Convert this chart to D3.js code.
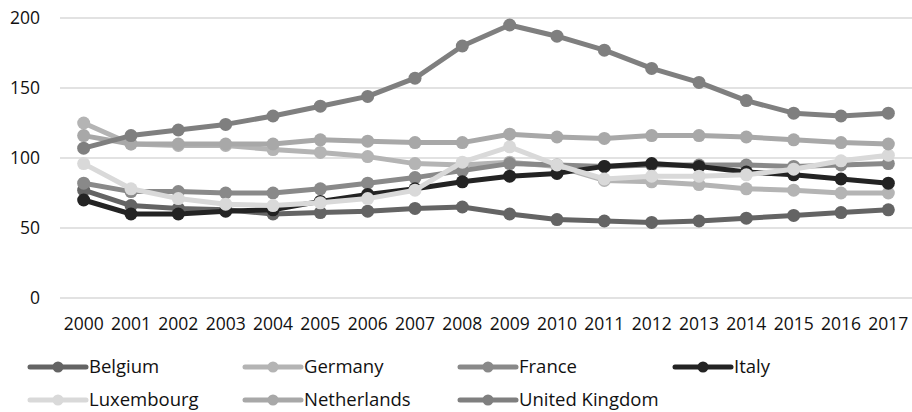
<!DOCTYPE html>
<html>
<head>
<meta charset="utf-8">
<script src="https://cdn.jsdelivr.net/npm/d3@7"></script>
<style>
  body { margin: 0; background: #fff; }
  text { font-family: "Open Sans", "Liberation Sans", sans-serif; fill: #111; }
</style>
</head>
<body>
<div id="chart"></div>
<script>
var years = ["2000","2001","2002","2003","2004","2005","2006","2007","2008","2009",
             "2010","2011","2012","2013","2014","2015","2016","2017"];
var yTicks = [0, 50, 100, 150, 200];

var belgium     = [77, 66, 64, 63, 60, 61, 62, 64, 65, 60, 56, 55, 54, 55, 57, 59, 61, 63];
var germany     = [125, 110, 109, 109, 106, 104, 101, 96, 95, 97, 94, 84, 83, 81, 78, 77, 75, 75];
var france      = [82, 76, 76, 75, 75, 78, 82, 86, 91, 96, 95, 94, 95, 95, 95, 94, 95, 96];
var italy       = [70, 60, 60, 62, 63, 69, 74, 78, 83, 87, 89, 94, 96, 94, 90, 88, 85, 82];
var luxembourg  = [96, 78, 71, 67, 66, 68, 71, 77, 97, 108, 95, 85, 87, 87, 88, 92, 98, 102];
var netherlands = [116, 110, 110, 110, 110, 113, 112, 111, 111, 117, 115, 114, 116, 116, 115, 113, 111, 110];
var uk          = [107, 116, 120, 124, 130, 137, 144, 157, 180, 195, 187, 177, 164, 154, 141, 132, 130, 132];

var names  = ["Belgium", "Germany", "France", "Italy", "Luxembourg", "Netherlands", "United Kingdom"];
var values = [belgium, germany, france, italy, luxembourg, netherlands, uk];
var colors = ["#646464", "#b4b4b4", "#898989", "#232323", "#d9d9d9", "#a8a8a8", "#7f7f7f"];

var svgWidth = 912, svgHeight = 412;
var plot = { left: 60, right: 912, top: 18, bottom: 298 };

var svg = d3.select("#chart").append("svg")
    .attr("width", svgWidth)
    .attr("height", svgHeight);

var x = d3.scaleBand().domain(years).range([plot.left, plot.right]);
var y = d3.scaleLinear().domain([0, 200]).range([plot.bottom, plot.top]);

// gridlines
svg.append("g").selectAll("line")
    .data(yTicks)
    .enter().append("line")
    .attr("x1", plot.left).attr("x2", plot.right)
    .attr("y1", d => y(d)).attr("y2", d => y(d))
    .attr("stroke", "#d9d9d9")
    .attr("stroke-width", 1.5);

// y axis labels
var yAxis = d3.axisLeft(y).tickValues(yTicks).tickSize(0).tickPadding(0);
svg.append("g")
    .attr("transform", "translate(40,0)")
    .call(yAxis)
    .call(g => g.select(".domain").remove())
    .selectAll("text")
    .style("font-size", "17.5px")
    .attr("fill", "#111");

// x axis labels
var xAxis = d3.axisBottom(x).tickSize(0).tickPadding(0);
svg.append("g")
    .attr("transform", `translate(0, ${plot.bottom + 20})`)
    .call(xAxis)
    .call(g => g.select(".domain").remove())
    .selectAll("text")
    .style("font-size", "17.5px")
    .attr("fill", "#111");

var cx = d => x(d) + x.bandwidth() / 2;

var line = d3.line()
    .x((d, i) => cx(years[i]))
    .y(d => y(d));

// series
names.forEach(function (name, k) {
    var g = svg.append("g");
    g.append("path")
        .datum(values[k])
        .attr("d", line)
        .attr("fill", "none")
        .attr("stroke", colors[k])
        .attr("stroke-width", 5)
        .attr("stroke-linejoin", "round");
    g.selectAll("circle")
        .data(values[k])
        .enter().append("circle")
        .attr("cx", (d, i) => cx(years[i]))
        .attr("cy", d => y(d))
        .attr("r", 6.5)
        .attr("fill", colors[k]);
});

// legend
var legend = svg.append("g");
names.forEach(function (name, k) {
    var col = k % 4, row = Math.floor(k / 4);
    var lx = 30 + col * 215, ly = 367 + row * 33;
    var item = legend.append("g").attr("transform", `translate(${lx}, ${ly})`);
    item.append("line")
        .attr("x1", 0).attr("x2", 56)
        .attr("stroke", colors[k])
        .attr("stroke-width", 5)
        .attr("stroke-linecap", "round");
    item.append("circle")
        .attr("cx", 28).attr("r", 5.5)
        .attr("fill", colors[k]);
    item.append("text")
        .attr("x", 59)
        .attr("dy", "0.35em")
        .style("font-size", "18.5px")
        .text(name);
});
</script>
</body>
</html>
